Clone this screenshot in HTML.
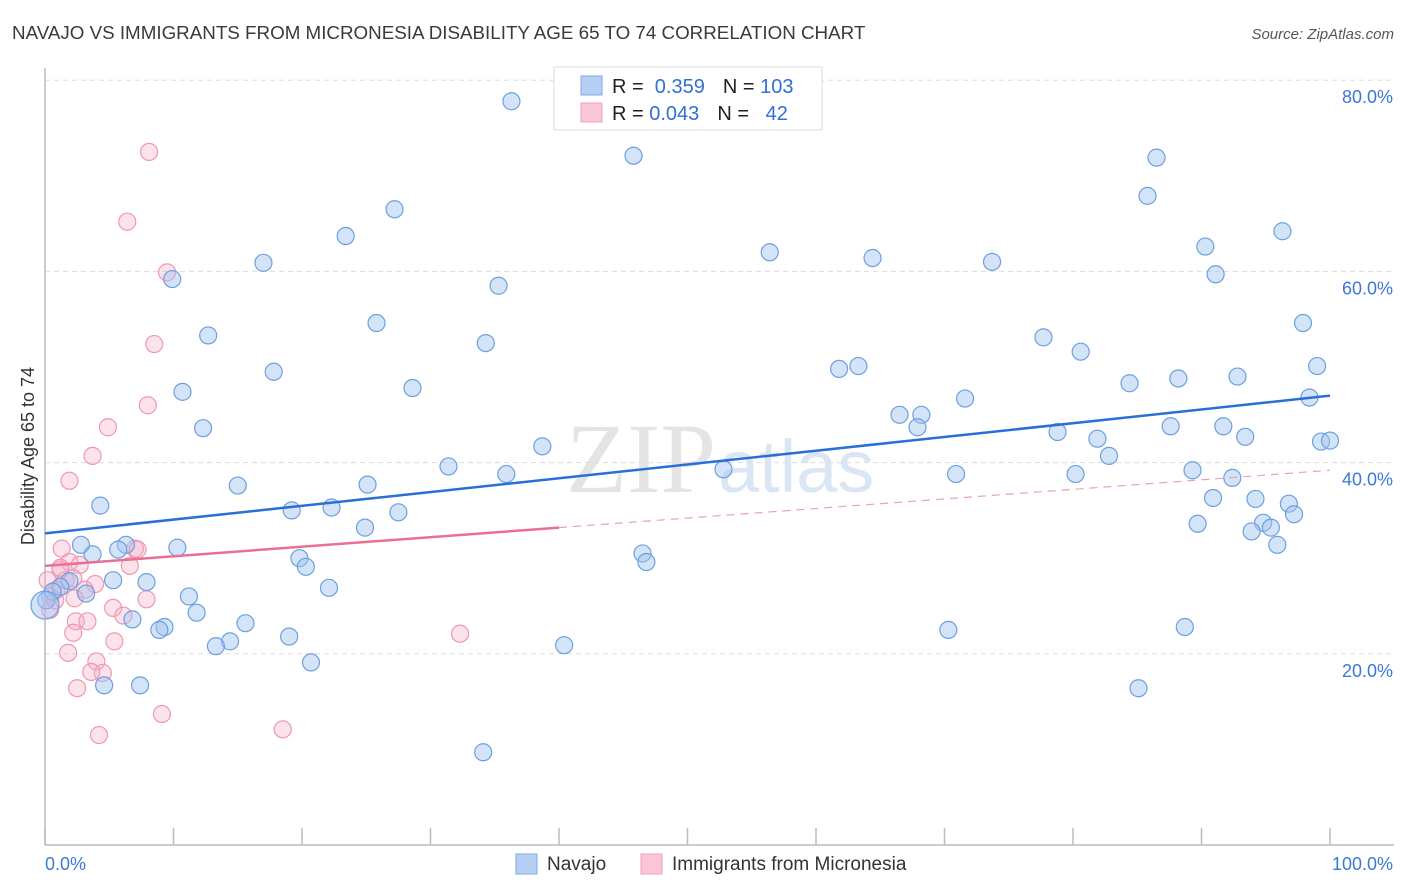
<!DOCTYPE html>
<html><head><meta charset="utf-8"><style>
body{margin:0;background:#fff;font-family:"Liberation Sans",sans-serif}
svg{display:block}
</style></head><body>
<svg id="c" width="1406" height="892">
<text x="12" y="39" font-size="18.8" fill="#3a3a3a">NAVAJO VS IMMIGRANTS FROM MICRONESIA DISABILITY AGE 65 TO 74 CORRELATION CHART</text>
<text x="1394" y="39" font-size="15" fill="#555" text-anchor="end" font-style="italic">Source: ZipAtlas.com</text>
<text x="34" y="456" font-size="18" fill="#333" text-anchor="middle" transform="rotate(-90 34 456)">Disability Age 65 to 74</text>
<text x="716" y="492" font-size="100" fill="#e4e4e4" text-anchor="end" font-family="Liberation Serif,serif">ZIP</text>
<text x="718" y="492" font-size="74" fill="#dbe6f5">atlas</text>
<g id="grid"></g><g id="pts"></g><g id="lines"></g>
<g>
<rect x="554" y="67" width="268" height="63" fill="#fff" stroke="#ddd"/>
<rect x="581" y="76" width="21" height="19" fill="#b6d0f5" stroke="#7fa9e6"/>
<rect x="581" y="103" width="21" height="19" fill="#f8c6d5" stroke="#f0a0b8"/>
<text x="612" y="93" font-size="20" fill="#222">R = <tspan fill="#2f6fd6">&#160;0.359</tspan><tspan dx="18">N = </tspan><tspan fill="#2f6fd6">103</tspan></text>
<text x="612" y="120" font-size="20" fill="#222">R = <tspan fill="#2f6fd6">0.043</tspan><tspan dx="18">N = </tspan><tspan fill="#2f6fd6">&#160;&#160;42</tspan></text>
</g>
<g>
<rect x="516" y="854" width="21" height="20" fill="#b6d0f5" stroke="#7fa9e6"/>
<text x="547" y="870" font-size="19" fill="#333">Navajo</text>
<rect x="641" y="854" width="21" height="20" fill="#f8c6d5" stroke="#f0a0b8"/>
<text x="672" y="870" font-size="19" fill="#333">Immigrants from Micronesia</text>
</g>
</svg>
<script>
const yTicks=[20,40,60,80];
const yTickLabels=["20.0%","40.0%","60.0%","80.0%"];
const xTicks=[0,10,20,30,40,50,60,70,80,90,100];
const navajoX=[36.3,45.8,86.5,85.8,27.2,23.4,96.3,90.3,56.4,64.4,73.7,17.0,91.1,9.9,35.3,25.8,97.9,12.7,77.7,34.3,80.6,99.0,61.8,63.3,17.8,84.4,88.2,92.8,10.7,28.6,71.6,98.4,66.5,68.2,67.9,12.3,78.8,87.6,91.7,81.9,93.4,38.7,82.8,99.3,100,31.4,52.8,70.9,35.9,80.2,89.3,92.4,15.0,25.1,90.9,94.2,4.3,19.2,22.3,96.8,27.5,97.2,24.9,89.7,94.8,93.9,95.4,95.9,2.8,6.3,10.3,3.7,5.7,46.5,46.8,19.8,20.3,5.3,7.9,1.9,1.2,22.1,3.2,11.2,0.6,0.1,11.8,6.8,15.6,9.3,8.9,70.3,88.7,14.4,13.3,19.0,40.4,20.7,4.6,7.4,85.1,34.1,0];
const navajoY=[77.8,72.1,71.9,67.9,66.5,63.7,64.2,62.6,62.0,61.4,61.0,60.9,59.7,59.2,58.5,54.6,54.6,53.3,53.1,52.5,51.6,50.1,49.8,50.1,49.5,48.3,48.8,49.0,47.4,47.8,46.7,46.8,45.0,45.0,43.7,43.6,43.2,43.8,43.8,42.5,42.7,41.7,40.7,42.2,42.3,39.6,39.3,38.8,38.8,38.8,39.2,38.4,37.6,37.7,36.3,36.2,35.5,35.0,35.3,35.7,34.8,34.6,33.2,33.6,33.7,32.8,33.2,31.4,31.4,31.4,31.1,30.4,30.9,30.5,29.6,30.0,29.1,27.7,27.5,27.6,27.0,26.9,26.3,26.0,26.5,25.6,24.3,23.6,23.2,22.8,22.5,22.5,22.8,21.3,20.8,21.8,20.9,19.1,16.7,16.7,16.4,9.7,25.1];
const microX=[8.1,6.4,9.5,8.5,8.0,4.9,3.7,1.9,1.3,1.9,1.2,2.7,1.6,2.2,3.9,0.9,0.4,3.1,5.3,6.1,6.6,7.0,7.2,7.9,2.4,3.3,2.2,5.4,1.8,4.0,4.5,3.6,2.5,9.1,4.2,18.5,32.3,0.4,0.2,0.8,1.2,2.3];
const microY=[72.5,65.2,59.9,52.4,46.0,43.7,40.7,38.1,31.0,29.6,28.8,29.3,27.7,27.9,27.3,26.7,26.0,26.7,24.8,24.0,29.2,31.0,30.9,25.7,23.4,23.4,22.2,21.3,20.1,19.2,18.0,18.1,16.4,13.7,11.5,12.1,22.1,24.6,27.7,25.6,29.0,25.8];
const navajoTrend=[32.6,47.0];
const microTrend=[29.2,39.2];
const microSolidEnd=40;
const NS="http://www.w3.org/2000/svg";
const X=v=>45+v*12.85, Y=v=>845-v*9.56;
function mk(t,a,p){const e=document.createElementNS(NS,t);for(const k in a)e.setAttribute(k,a[k]);p.appendChild(e);return e;}
const g=document.getElementById('grid');
yTicks.forEach((t,i)=>{
 const l=mk('line',{x1:45,x2:1394,y1:Y(t),y2:Y(t),stroke:'#ddd','stroke-dasharray':'5,4'},g);
 
 
 const tx=mk('text',{x:1393,y:Y(t)+23,'font-size':18,fill:'#3b78d8','text-anchor':'end'},g);
 tx.textContent=yTickLabels[i];
 
 
});
const ax=mk('line',{x1:45,x2:45,y1:68,y2:845,stroke:'#bbb','stroke-width':1.5},g);


const bx=mk('line',{x1:45,x2:1394,y1:845,y2:845,stroke:'#bbb','stroke-width':1.5},g);


xTicks.forEach(t=>{
 const l=mk('line',{x1:X(t),x2:X(t),y1:828,y2:845,stroke:'#bbb','stroke-width':1.5},g);
 
 
});
const x0=mk('text',{x:45,y:870,'font-size':18,fill:'#3b78d8'},g);x0.textContent='0.0%';


const x1=mk('text',{x:1393,y:870,'font-size':18,fill:'#3b78d8','text-anchor':'end'},g);x1.textContent='100.0%';


const p=document.getElementById('pts');
microX.forEach((v,i)=>{
 const c=mk('circle',{cx:X(v),cy:Y(microY[i]),r:8.5,fill:'rgba(246,176,198,0.35)',stroke:'#ee98b3','stroke-width':1.2},p);
 
 
});
navajoX.forEach((v,i)=>{
 const c=mk('circle',{cx:X(v),cy:Y(navajoY[i]),r:i==navajoX.length-1?14:8.5,fill:'rgba(160,196,240,0.45)',stroke:'#6d9fe0','stroke-width':1.2},p);
 
 
});
const L=document.getElementById('lines');
const nl=mk('line',{x1:X(0),y1:Y(navajoTrend[0]),x2:X(100),y2:Y(navajoTrend[1]),stroke:'#2a6fd8','stroke-width':2.5},L);


const my=microTrend[0]+(microTrend[1]-microTrend[0])*microSolidEnd/100;
const ml=mk('line',{x1:X(0),y1:Y(microTrend[0]),x2:X(microSolidEnd),y2:Y(my),stroke:'#ea6f96','stroke-width':2.5},L);


const md=mk('line',{x1:X(microSolidEnd),y1:Y(my),x2:X(100),y2:Y(microTrend[1]),stroke:'#eaa0b8','stroke-width':1.2,'stroke-dasharray':'8,6'},L);


</script>
</body></html>
